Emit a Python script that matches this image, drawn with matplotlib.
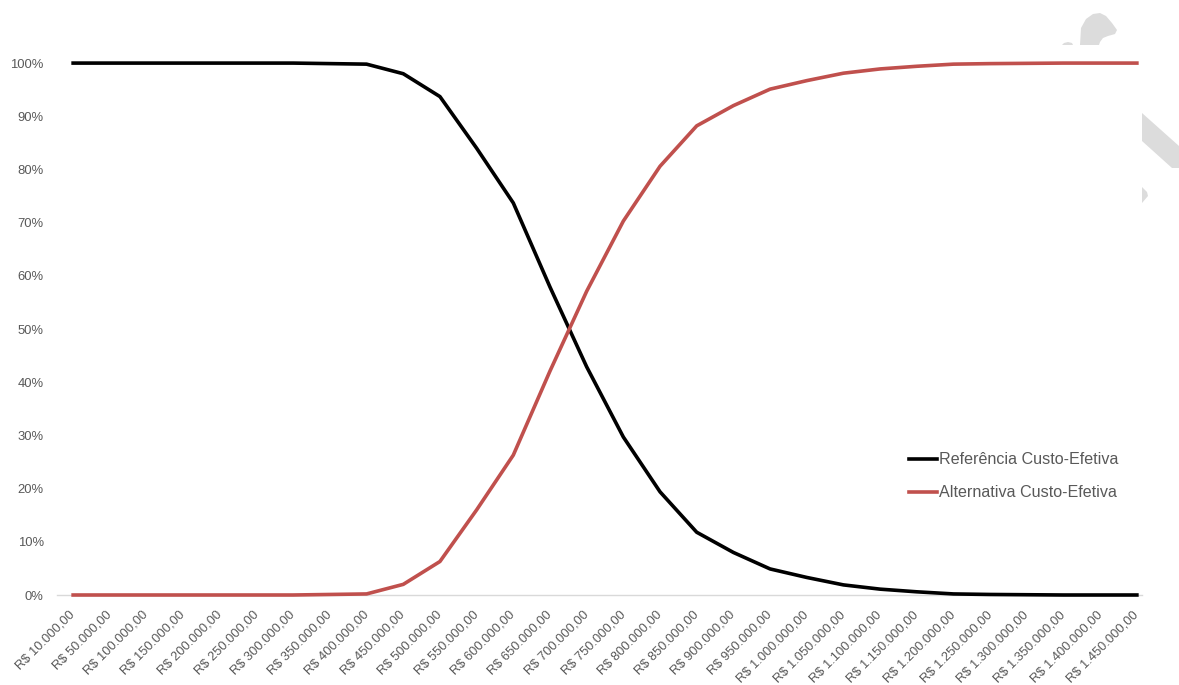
import matplotlib
matplotlib.use("Agg")
import matplotlib.pyplot as plt
import matplotlib.transforms as mtransforms
from matplotlib.patches import Polygon

plt.rcParams['font.family'] = ['Liberation Sans', 'DejaVu Sans']

# Willingness-to-pay thresholds (R$)
limiares = [10000] + list(range(50000, 1450001, 50000))
rotulos = ["R$ " + f"{v:,.2f}".replace(",", "X").replace(".", ",").replace("X", ".") for v in limiares]

# Probability of being cost-effective (%)
referencia = [100, 100, 100, 100, 100, 100, 100, 99.9, 99.8, 98.0, 93.7, 84.0, 73.7, 57.9, 42.9,
              29.7, 19.4, 11.8, 8.0, 4.9, 3.3, 1.9, 1.1, 0.6, 0.2, 0.1, 0.05, 0, 0, 0]
alternativa = [0, 0, 0, 0, 0, 0, 0, 0.1, 0.2, 2.0, 6.3, 16.0, 26.3, 42.1, 57.1,
               70.3, 80.6, 88.2, 92.0, 95.1, 96.7, 98.1, 98.9, 99.4, 99.8, 99.9, 99.95, 100, 100, 100]

W, H = 1179, 685
fig = plt.figure(figsize=(W / 100, H / 100), dpi=100)

# Faint grey logo shapes behind the chart area
cinza = "#DCDCDC"
formas = [
    [(1080, 45), (1081, 28), (1086, 19), (1093, 14), (1100, 13), (1106, 16), (1112, 23), (1117, 30),
     (1115, 34), (1108, 36), (1103, 38), (1100, 42), (1099, 45)],
    [(1062, 45), (1064, 43), (1068, 42), (1072, 43), (1073, 45)],
    [(1142, 113), (1179, 146), (1179, 168), (1172, 168), (1142, 141)],
    [(1142, 187), (1147, 192), (1148, 196), (1142, 203)],
]
for f in formas:
    pts = [(x / W, 1 - y / H) for x, y in f]
    fig.add_artist(Polygon(pts, closed=True, transform=fig.transFigure,
                           facecolor=cinza, edgecolor="none", zorder=0))

ax = fig.add_axes([57 / W, 1 - 595 / H, (1142 - 57) / W, (595 - 45) / H])
ax.set_facecolor("white")
ax.set_zorder(1)

x = list(range(len(limiares)))
ax.plot(x, referencia, color="black", lw=2.6, label="Referência Custo-Efetiva",
        clip_on=False, zorder=3, solid_joinstyle="round")
ax.plot(x, alternativa, color="#C0504D", lw=2.6, label="Alternativa Custo-Efetiva",
        clip_on=False, zorder=3, solid_joinstyle="round")

ax.set_xlim(-0.44, 29.14)
ax.set_ylim(0, 103.4)

ax.set_yticks(range(0, 101, 10))
ax.set_yticklabels([f"{v}%" for v in range(0, 101, 10)])
ax.set_xticks(x)
ax.set_xticklabels(rotulos, rotation=45, ha="right", va="center", rotation_mode="anchor")

# nudge the slanted labels slightly left of their ticks
desloc = mtransforms.ScaledTranslation(-3 / 72, 0, fig.dpi_scale_trans)
for lbl in ax.get_xticklabels():
    lbl.set_transform(lbl.get_transform() + desloc)

for s in ["top", "right", "left"]:
    ax.spines[s].set_visible(False)
ax.spines["bottom"].set_color("#D9D9D9")
ax.spines["bottom"].set_linewidth(1.0)
ax.tick_params(axis="both", length=0, colors="#595959")
ax.tick_params(axis="y", pad=9.5, labelsize=9.4)
ax.tick_params(axis="x", pad=13, labelsize=9.3)

leg = ax.legend(loc="lower right", bbox_to_anchor=(0.992, 0.146), frameon=False,
                fontsize=11.6, handlelength=1.75, handletextpad=0.15, labelspacing=1.1)
for t in leg.get_texts():
    t.set_color("#595959")

fig.savefig("out.png", dpi=100, facecolor="white")
